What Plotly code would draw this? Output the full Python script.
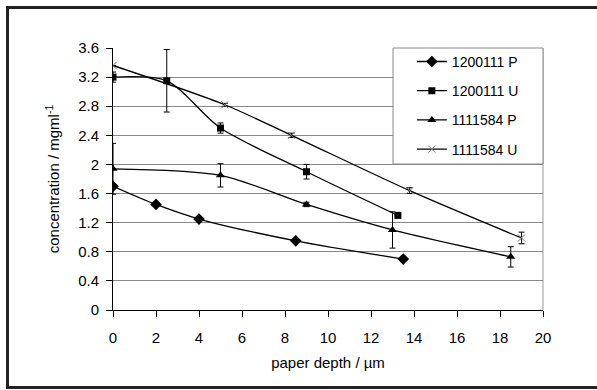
import plotly.graph_objects as go

# ---- data ----
p1_x = [0, 2, 4, 8.5, 13.5]
p1_y = [1.70, 1.45, 1.25, 0.95, 0.70]
p1_err = [0, 0, 0, 0, 0]

u1_x = [0, 2.5, 5, 9, 13.25]
u1_y = [3.20, 3.15, 2.50, 1.90, 1.30]
u1_err = [0.07, 0.43, 0.07, 0.10, 0]

p2_x = [0, 5, 9, 13, 18.5]
p2_y = [1.94, 1.85, 1.45, 1.10, 0.73]
p2_err = [0.35, 0.16, 0.03, 0.25, 0.14]

u2_x = [0, 5.2, 8.3, 13.8, 19]
u2_y = [3.36, 2.82, 2.40, 1.64, 0.99]
u2_err = [0, 0.02, 0.03, 0.04, 0.08]

names = ["1200111 P", "1200111 U", "1111584 P", "1111584 U"]

y_ticks = [0, 0.4, 0.8, 1.2, 1.6, 2, 2.4, 2.8, 3.2, 3.6]
y_ticktext = ["0", "0.4", "0.8", "1.2", "1.6", "2", "2.4", "2.8", "3.2", "3.6"]
x_ticks = [0, 2, 4, 6, 8, 10, 12, 14, 16, 18, 20]

FONT = "Liberation Sans, Arial, sans-serif"

fig = go.Figure()

series = [
    (p1_x, p1_y, p1_err, dict(symbol="diamond", size=9, color="black")),
    (u1_x, u1_y, u1_err, dict(symbol="square", size=7, color="black")),
    (p2_x, p2_y, p2_err, dict(symbol="triangle-up", size=8, color="black")),
    (u2_x, u2_y, u2_err, dict(symbol="x-thin", size=7, color="#777777",
                              line=dict(width=1, color="#777777"))),
]

for i, (xs, ys, es, mk) in enumerate(series):
    fig.add_trace(go.Scatter(
        x=xs, y=ys, name=names[i], mode="lines+markers",
        line=dict(color="black", width=1.3, shape="spline", smoothing=0.8),
        marker=mk,
        error_y=dict(type="data", array=es, visible=True, color="black",
                     thickness=1, width=3),
        legendgroup=f"g{i}",
    ))

# plot area right border (gray)
fig.add_shape(type="line", xref="paper", yref="paper", x0=1, x1=1, y0=0, y1=1,
              line=dict(color="#999999", width=1), layer="between")
# legend box
fig.add_shape(type="rect", xref="paper", yref="paper",
              x0=(393 - 113) / 430, x1=1, y0=(310 - 164) / 262, y1=1,
              fillcolor="white", line=dict(color="#888888", width=1), layer="above")
# outer chart border: left, top, bottom (right edge lies outside the picture)
px = lambda v: (v - 113) / 430
py = lambda v: (310 - v) / 262
border = dict(color="#222222", width=3)
fig.add_shape(type="line", xref="paper", yref="paper", x0=px(7.5), x1=px(7.5),
              y0=py(6), y1=py(389), line=border, layer="above")
fig.add_shape(type="line", xref="paper", yref="paper", x0=px(6), x1=px(597),
              y0=py(7.5), y1=py(7.5), line=border, layer="above")
fig.add_shape(type="line", xref="paper", yref="paper", x0=px(6), x1=px(597),
              y0=py(387.5), y1=py(387.5), line=border, layer="above")

fig.update_layout(
    width=597, height=390,
    margin=dict(l=113, r=54, t=48, b=80, autoexpand=False),
    paper_bgcolor="white", plot_bgcolor="white",
    font=dict(family=FONT, size=14, color="black"),
    showlegend=True,
    legend=dict(x=0.695, y=1.008, xanchor="left", yanchor="top",
                bgcolor="rgba(0,0,0,0)", borderwidth=0,
                tracegroupgap=8, font=dict(size=14)),
    xaxis=dict(range=[0, 20], tickvals=x_ticks, showgrid=False, zeroline=False,
               automargin=False,
               showline=True, linecolor="black", linewidth=1,
               ticks="outside", ticklen=6, tickcolor="black",
               ticklabelstandoff=8, tickfont=dict(size=15),
               title=dict(text="paper depth / µm", standoff=12, font=dict(size=15))),
    yaxis=dict(range=[0, 3.6], tickvals=y_ticks, ticktext=y_ticktext,
               automargin=False,
               showgrid=True, gridcolor="#888888", gridwidth=1, zeroline=False,
               showline=True, linecolor="black", linewidth=1,
               ticks="outside", ticklen=6, tickcolor="black",
               ticklabelstandoff=4, tickfont=dict(size=15),
               title=dict(text="concentration / mgml<sup>-1</sup>", standoff=14,
                          font=dict(size=15))),
)

fig.write_html("out.html",
               config={"displayModeBar": False},
               post_script="document.body.style.margin='0';document.body.style.overflow='hidden';")
